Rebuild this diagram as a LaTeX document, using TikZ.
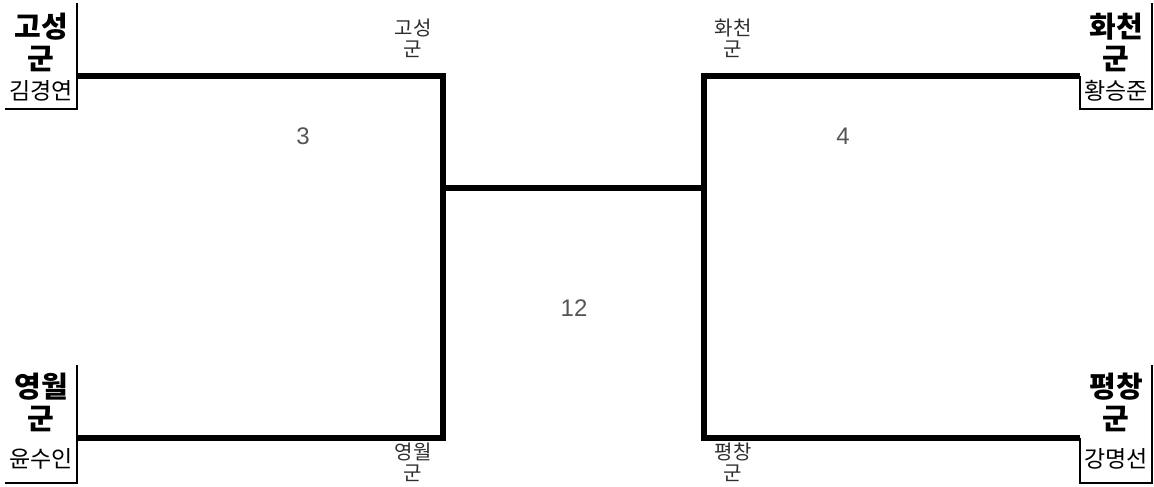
\documentclass[tikz,border=0pt]{standalone}
\usepackage{fontspec}
\setmainfont{Noto Sans CJK KR}
\newfontfamily\scorefont{Liberation Sans}
\usetikzlibrary{positioning}
\definecolor{scoregrey}{RGB}{85,85,85}
\definecolor{labelgrey}{RGB}{45,45,45}
\tikzset{
  team/.style={font=\bfseries\fontsize{29}{32}\selectfont, align=center, inner sep=0pt},
  player/.style={font=\fontsize{23}{26}\selectfont, inner sep=0pt},
  seedlbl/.style={font=\fontsize{20}{21}\selectfont, align=center, inner sep=0pt, text=labelgrey},
  score/.style={font=\scorefont\fontsize{24}{26}\selectfont, inner sep=0pt, text=scoregrey},
  boxline/.style={line width=2pt, draw=black},
  bracket/.style={line width=5.5pt, draw=black},
}

\begin{document}
\begin{tikzpicture}[x=1pt,y=-1pt]
  \useasboundingbox (0,0) rectangle (1154,487);
  % team boxes
  \node[team]   (goseong)   at (41,42)   {고성\\군};
  \node[player] (goseongp)  at (41,91)   {김경연};
  \node[team]   (yeongwol)  at (41,402)  {영월\\군};
  \node[player] (yeongwolp) at (41,459)  {윤수인};
  \node[team]   (hwacheon)  at (1116,42) {화천\\군};
  \node[player] (hwacheonp) at (1116,91) {황승준};
  \node[team]   (pyeongchang)  at (1116,402) {평창\\군};
  \node[player] (pyeongchangp) at (1116,459) {강명선};
  \draw[boxline] (77,3) -- (77,109) -- (5,109);
  \draw[boxline] (77,365) -- (77,483) -- (5,483);
  \draw[boxline] (1152,3) -- (1152,109) -- (1080,109) -- (1080,76);
  \draw[boxline] (1152,365) -- (1152,483) -- (1080,483) -- (1080,438);
  % bracket joints
  \coordinate (a1) at (77,76);   \coordinate (m1) at (443,76);
  \coordinate (a2) at (77,438);  \coordinate (m2) at (443,438);
  \coordinate (a3) at (1080,76); \coordinate (m3) at (704,76);
  \coordinate (a4) at (1080,438);\coordinate (m4) at (704,438);
  \coordinate (c1) at (443,188); \coordinate (c2) at (704,188);
  \draw[bracket] (a1) -- (m1) -- (m2) -- (a2);
  \draw[bracket] (a3) -- (m3) -- (m4) -- (a4);
  \draw[bracket] (c1) -- (c2);
  % round labels
  \node[seedlbl] (s1) at (413,38)  {고성\\군};
  \node[seedlbl] (s2) at (413,462) {영월\\군};
  \node[seedlbl] (s3) at (733,38)  {화천\\군};
  \node[seedlbl] (s4) at (733,462) {평창\\군};
  % scores
  \node[score] (sc1) at (303,136) {3};
  \node[score] (sc2) at (843,136) {4};
  \node[score] (sc3) at (574,308) {12};
\end{tikzpicture}
\end{document}
